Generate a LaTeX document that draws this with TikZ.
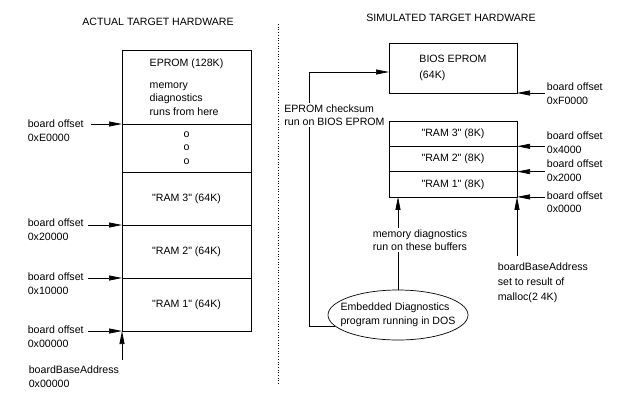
\documentclass[tikz,border=0pt]{standalone}
\usepackage{fontspec}
\setmainfont{Liberation Sans}[Ligatures=TeXOff]
\usetikzlibrary{arrows.meta,shapes,positioning}
\tikzstyle{mem} = [rectangle, draw, minimum width=129pt, inner sep=0pt, outer sep=0pt, text centered]
\tikzstyle{arrow} = [-{Triangle[length=13pt,width=5pt]}]
\tikzstyle{lbl} = [align=left, inner sep=1.5pt]

\begin{document}
\begin{tikzpicture}[x=1pt, y=-1pt, node distance=0pt, line width=0.7pt, font=\fontsize{10.6}{13.5}\selectfont]
\useasboundingbox (0,0) rectangle (626,408);
% Titles and divider
\node (titleA) at (158,22) {ACTUAL TARGET HARDWARE};
\node (titleS) at (451,18) {SIMULATED TARGET HARDWARE};
\draw[dotted] (278,24) -- (278,385);

% Actual target hardware
\node (eprom) [mem, minimum height=74pt, align=left, anchor=north] at (186.5,50) {EPROM (128K)\\[8pt]memory\\diagnostics\\runs from here};
\node (gap) [mem, minimum height=48pt, align=center, below=of eprom] {o\\o\\o};
\node (ramC) [mem, minimum height=53pt, below=of gap] {"RAM 3" (64K)};
\node (ramB) [mem, minimum height=53pt, below=of ramC] {"RAM 2" (64K)};
\node (ramA) [mem, minimum height=53pt, below=of ramB] {"RAM 1" (64K)};

\node (offE) [lbl, anchor=north west] at (26,118) {board offset\\0xE0000};
\node (off2) [lbl, anchor=north west] at (26,217) {board offset\\0x20000};
\node (off1) [lbl, anchor=north west] at (26,271) {board offset\\0x10000};
\node (off0) [lbl, anchor=north west] at (26,324) {board offset\\0x00000};
\node (bbaA) [lbl, anchor=north west] at (27,364) {boardBaseAddress\\0x00000};

\draw[arrow] ([xshift=6pt]offE.east |- eprom.south) -- (eprom.south west);
\draw[arrow] ([xshift=3pt]off2.east |- ramC.south) -- (ramC.south west);
\draw[arrow] ([xshift=3pt]off1.east |- ramB.south) -- (ramB.south west);
\draw[arrow] ([xshift=3pt]off0.east |- ramA.south) -- (ramA.south west);
\draw[arrow] ([yshift=4pt]ramA.south west |- bbaA.north) -- (ramA.south west);

% Simulated target hardware
\node (bios) [mem, minimum width=128pt, minimum height=50pt, align=left] at (453,68) {BIOS EPROM\\[3pt](64K)};
\node (simC) [mem, minimum width=128pt, minimum height=25.3pt, anchor=north] at (453,121) {"RAM 3" (8K)};
\node (simB) [mem, minimum width=128pt, minimum height=25.3pt, below=of simC] {"RAM 2" (8K)};
\node (simA) [mem, minimum width=128pt, minimum height=25.3pt, below=of simB] {"RAM 1" (8K)};

\node (offF) [lbl, anchor=west] at (545,93.5) {board offset\\0xF0000};
\node (off4) [lbl, anchor=west] at (545,142.5) {board offset\\0x4000};
\node (offT) [lbl, anchor=west] at (545,170.5) {board offset\\0x2000};
\node (offZ) [lbl, anchor=west] at (545,202) {board offset\\0x0000};

\draw[arrow] (offF.west |- bios.south) -- (bios.south east);
\draw[arrow] (off4.west |- simC.south) -- (simC.south east);
\draw[arrow] (offT.west |- simB.south) -- (simB.south east);
\draw[arrow] (offZ.west |- simA.south) -- (simA.south east);

\node (diag) [ellipse, draw, minimum width=140pt, minimum height=50pt, label={[align=left]center:Embedded Diagnostics\\program running in DOS}] at (398,315) {};
\node (bbaS) [lbl, anchor=north west, font=\fontsize{10.6}{15}\selectfont] at (496,261) {boardBaseAddress\\set to result of\\malloc(2 4K)};

% Connectors from the diagnostics program
\coordinate (turn) at (309,72);
\draw[arrow] (diag.190) -| (turn) -- (turn -| bios.west);
\draw[arrow] (diag.north) -- (diag.north |- simA.south);
\draw[arrow] ([yshift=5pt]simA.south east |- bbaS.north) -- (simA.south east);

\node (chk) [lbl, fill=white, anchor=west, inner sep=1pt] at (283,115) {EPROM checksum\\run on BIOS EPROM};
\node (buf) [lbl, fill=white, anchor=west] at (371,240) {memory diagnostics\\run on these buffers};
\end{tikzpicture}
\end{document}
